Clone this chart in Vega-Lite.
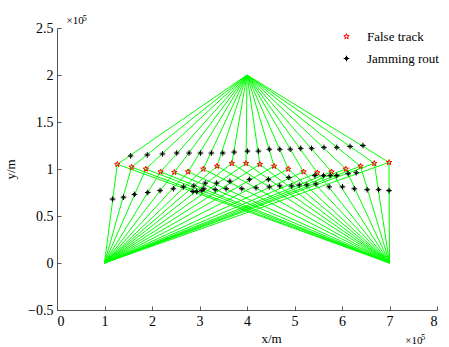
{
  "$schema": "https://vega.github.io/schema/vega-lite/v6.json",
  "width": 380,
  "height": 282,
  "autosize": "none",
  "padding": {"left": 57, "top": 28, "right": 12, "bottom": 37},
  "background": "white",
  "config": {
    "view": {"stroke": null},
    "font": "Liberation Serif",
    "axis": {"labelFont": "Liberation Serif", "titleFont": "Liberation Serif", "labelFontSize": 13, "titleFontSize": 13, "titleFontWeight": "normal", "labelColor": "#000", "titleColor": "#000", "grid": false, "domainColor": "#555", "tickColor": "#555", "tickSize": -4}
  },
  "datasets": {
    "segs": [
      {"rx":1,"ry":0,"x":1.27,"y":1.05},{"rx":1,"ry":0,"x":1.57,"y":1.02},{"rx":1,"ry":0,"x":1.87,"y":1.00},{"rx":1,"ry":0,"x":2.18,"y":0.97},{"rx":1,"ry":0,"x":2.47,"y":0.965},{"rx":1,"ry":0,"x":2.76,"y":0.97},{"rx":1,"ry":0,"x":3.08,"y":1.00},{"rx":1,"ry":0,"x":3.37,"y":1.03},{"rx":1,"ry":0,"x":3.68,"y":1.06},{"rx":1,"ry":0,"x":3.98,"y":1.06},{"rx":1,"ry":0,"x":4.27,"y":1.05},{"rx":1,"ry":0,"x":4.57,"y":1.03},{"rx":1,"ry":0,"x":4.87,"y":1.00},{"rx":1,"ry":0,"x":5.19,"y":0.97},{"rx":1,"ry":0,"x":5.48,"y":0.96},{"rx":1,"ry":0,"x":5.78,"y":0.97},{"rx":1,"ry":0,"x":6.08,"y":1.00},{"rx":1,"ry":0,"x":6.39,"y":1.03},{"rx":1,"ry":0,"x":6.68,"y":1.06},{"rx":1,"ry":0,"x":6.99,"y":1.07},
      {"rx":4,"ry":2,"x":1.27,"y":1.05},{"rx":4,"ry":2,"x":1.57,"y":1.02},{"rx":4,"ry":2,"x":1.87,"y":1.00},{"rx":4,"ry":2,"x":2.18,"y":0.97},{"rx":4,"ry":2,"x":2.47,"y":0.965},{"rx":4,"ry":2,"x":2.76,"y":0.97},{"rx":4,"ry":2,"x":3.08,"y":1.00},{"rx":4,"ry":2,"x":3.37,"y":1.03},{"rx":4,"ry":2,"x":3.68,"y":1.06},{"rx":4,"ry":2,"x":3.98,"y":1.06},{"rx":4,"ry":2,"x":4.27,"y":1.05},{"rx":4,"ry":2,"x":4.57,"y":1.03},{"rx":4,"ry":2,"x":4.87,"y":1.00},{"rx":4,"ry":2,"x":5.19,"y":0.97},{"rx":4,"ry":2,"x":5.48,"y":0.96},{"rx":4,"ry":2,"x":5.78,"y":0.97},{"rx":4,"ry":2,"x":6.08,"y":1.00},{"rx":4,"ry":2,"x":6.39,"y":1.03},{"rx":4,"ry":2,"x":6.68,"y":1.06},{"rx":4,"ry":2,"x":6.99,"y":1.07},
      {"rx":7,"ry":0,"x":1.27,"y":1.05},{"rx":7,"ry":0,"x":1.57,"y":1.02},{"rx":7,"ry":0,"x":1.87,"y":1.00},{"rx":7,"ry":0,"x":2.18,"y":0.97},{"rx":7,"ry":0,"x":2.47,"y":0.965},{"rx":7,"ry":0,"x":2.76,"y":0.97},{"rx":7,"ry":0,"x":3.08,"y":1.00},{"rx":7,"ry":0,"x":3.37,"y":1.03},{"rx":7,"ry":0,"x":3.68,"y":1.06},{"rx":7,"ry":0,"x":3.98,"y":1.06},{"rx":7,"ry":0,"x":4.27,"y":1.05},{"rx":7,"ry":0,"x":4.57,"y":1.03},{"rx":7,"ry":0,"x":4.87,"y":1.00},{"rx":7,"ry":0,"x":5.19,"y":0.97},{"rx":7,"ry":0,"x":5.48,"y":0.96},{"rx":7,"ry":0,"x":5.78,"y":0.97},{"rx":7,"ry":0,"x":6.08,"y":1.00},{"rx":7,"ry":0,"x":6.39,"y":1.03},{"rx":7,"ry":0,"x":6.68,"y":1.06},{"rx":7,"ry":0,"x":6.99,"y":1.07}
    ],
    "pts": [
      {"type":"False track","x":1.27,"y":1.05},{"type":"False track","x":1.57,"y":1.02},{"type":"False track","x":1.87,"y":1.00},{"type":"False track","x":2.18,"y":0.97},{"type":"False track","x":2.47,"y":0.965},{"type":"False track","x":2.76,"y":0.97},{"type":"False track","x":3.08,"y":1.00},{"type":"False track","x":3.37,"y":1.03},{"type":"False track","x":3.68,"y":1.06},{"type":"False track","x":3.98,"y":1.06},{"type":"False track","x":4.27,"y":1.05},{"type":"False track","x":4.57,"y":1.03},{"type":"False track","x":4.87,"y":1.00},{"type":"False track","x":5.19,"y":0.97},{"type":"False track","x":5.48,"y":0.96},{"type":"False track","x":5.78,"y":0.97},{"type":"False track","x":6.08,"y":1.00},{"type":"False track","x":6.39,"y":1.03},{"type":"False track","x":6.68,"y":1.06},{"type":"False track","x":6.99,"y":1.07},
      {"type":"Jamming rout","x":1.55,"y":1.14},{"type":"Jamming rout","x":1.90,"y":1.15},{"type":"Jamming rout","x":2.22,"y":1.16},{"type":"Jamming rout","x":2.52,"y":1.17},{"type":"Jamming rout","x":2.78,"y":1.17},{"type":"Jamming rout","x":3.02,"y":1.17},{"type":"Jamming rout","x":3.25,"y":1.17},{"type":"Jamming rout","x":3.49,"y":1.17},{"type":"Jamming rout","x":3.73,"y":1.18},{"type":"Jamming rout","x":4.01,"y":1.19},{"type":"Jamming rout","x":4.24,"y":1.19},{"type":"Jamming rout","x":4.47,"y":1.21},{"type":"Jamming rout","x":4.69,"y":1.21},{"type":"Jamming rout","x":4.91,"y":1.21},{"type":"Jamming rout","x":5.13,"y":1.22},{"type":"Jamming rout","x":5.36,"y":1.22},{"type":"Jamming rout","x":5.62,"y":1.23},{"type":"Jamming rout","x":5.89,"y":1.23},{"type":"Jamming rout","x":6.17,"y":1.24},{"type":"Jamming rout","x":6.44,"y":1.25},
      {"type":"Jamming rout","x":1.17,"y":0.68},{"type":"Jamming rout","x":1.40,"y":0.70},{"type":"Jamming rout","x":1.63,"y":0.73},{"type":"Jamming rout","x":1.91,"y":0.75},{"type":"Jamming rout","x":2.17,"y":0.77},{"type":"Jamming rout","x":2.45,"y":0.79},{"type":"Jamming rout","x":2.66,"y":0.81},{"type":"Jamming rout","x":2.88,"y":0.82},{"type":"Jamming rout","x":3.12,"y":0.85},{"type":"Jamming rout","x":3.36,"y":0.85},{"type":"Jamming rout","x":3.64,"y":0.87},{"type":"Jamming rout","x":4.05,"y":0.89},{"type":"Jamming rout","x":4.45,"y":0.89},{"type":"Jamming rout","x":4.88,"y":0.91},{"type":"Jamming rout","x":5.43,"y":0.93},{"type":"Jamming rout","x":5.61,"y":0.93},{"type":"Jamming rout","x":5.75,"y":0.93},{"type":"Jamming rout","x":5.89,"y":0.93},{"type":"Jamming rout","x":6.13,"y":0.95},{"type":"Jamming rout","x":6.30,"y":0.96},
      {"type":"Jamming rout","x":2.86,"y":0.76},{"type":"Jamming rout","x":2.94,"y":0.76},{"type":"Jamming rout","x":3.05,"y":0.77},{"type":"Jamming rout","x":3.09,"y":0.79},{"type":"Jamming rout","x":3.33,"y":0.78},{"type":"Jamming rout","x":3.56,"y":0.79},{"type":"Jamming rout","x":3.89,"y":0.79},{"type":"Jamming rout","x":4.19,"y":0.80},{"type":"Jamming rout","x":4.47,"y":0.81},{"type":"Jamming rout","x":4.69,"y":0.82},{"type":"Jamming rout","x":4.94,"y":0.82},{"type":"Jamming rout","x":5.10,"y":0.83},{"type":"Jamming rout","x":5.26,"y":0.83},{"type":"Jamming rout","x":5.45,"y":0.84},{"type":"Jamming rout","x":5.73,"y":0.81},{"type":"Jamming rout","x":6.01,"y":0.81},{"type":"Jamming rout","x":6.26,"y":0.79},{"type":"Jamming rout","x":6.53,"y":0.78},{"type":"Jamming rout","x":6.77,"y":0.78},{"type":"Jamming rout","x":6.99,"y":0.77}
    ]
  },
  "layer": [
    {
      "data": {"name": "segs"},
      "mark": {"type": "rule", "color": "#00ff00", "strokeWidth": 1},
      "encoding": {
        "x": {"field": "rx", "type": "quantitative", "scale": {"domain": [0, 8], "nice": false, "zero": false},
              "axis": {"orient": "bottom", "values": [0,1,2,3,4,5,6,7,8], "format": "~g", "title": "x/m", "titleX": 214, "titleY": 32, "titleBaseline": "alphabetic", "labelPadding": 8, "labelFont": "Liberation Serif", "labelFontSize": 14, "titleFont": "Liberation Serif"}},
        "y": {"field": "ry", "type": "quantitative", "scale": {"domain": [-0.5, 2.5], "nice": false, "zero": false},
              "axis": {"orient": "left", "values": [-0.5,0,0.5,1,1.5,2,2.5], "format": "~g", "title": "y/m", "titleX": -40, "titleY": 141, "labelPadding": 8, "labelFont": "Liberation Serif", "labelFontSize": 14, "titleFont": "Liberation Serif"}},
        "x2": {"field": "x"},
        "y2": {"field": "y"}
      }
    },
    {
      "data": {"name": "pts"},
      "mark": {"type": "point", "filled": false, "strokeWidth": 1, "opacity": 1, "size": 32},
      "encoding": {
        "x": {"field": "x", "type": "quantitative"},
        "y": {"field": "y", "type": "quantitative"},
        "color": {"field": "type", "type": "nominal", "scale": {"domain": ["False track", "Jamming rout"], "range": ["#ff0000", "#000000"]},
                  "legend": {"title": null, "orient": "none", "legendX": 283, "legendY": 2, "labelFont": "Liberation Serif", "labelFontSize": 13, "labelColor": "#000", "rowPadding": 8, "labelOffset": 14, "symbolSize": 32, "symbolStrokeWidth": 1}},
        "shape": {"field": "type", "type": "nominal", "scale": {"domain": ["False track", "Jamming rout"], "range": ["M0,-1L0.235,-0.324L0.951,-0.309L0.38,0.124L0.588,0.809L0,0.4L-0.588,0.809L-0.38,0.124L-0.951,-0.309L-0.235,-0.324Z", "M-1,0L1,0M0,-1L0,1M-0.5,-0.5L0.5,0.5M-0.5,0.5L0.5,-0.5"]}, "legend": {"title": null}}
      }
    },
    {
      "data": {"values": [{"x": 0.2, "y": 2.57, "t": "×10"}, {"x": 7.33, "y": -0.83, "t": "×10"}]},
      "mark": {"type": "text", "font": "Liberation Serif", "fontSize": 11, "align": "left", "baseline": "middle", "color": "#000"},
      "encoding": {"x": {"field": "x", "type": "quantitative"}, "y": {"field": "y", "type": "quantitative"}, "text": {"field": "t"}}
    },
    {
      "data": {"values": [{"x": 0.54, "y": 2.6, "t": "5"}, {"x": 7.67, "y": -0.80, "t": "5"}]},
      "mark": {"type": "text", "font": "Liberation Serif", "fontSize": 8, "align": "left", "baseline": "middle", "color": "#000"},
      "encoding": {"x": {"field": "x", "type": "quantitative"}, "y": {"field": "y", "type": "quantitative"}, "text": {"field": "t"}}
    }
  ]
}
